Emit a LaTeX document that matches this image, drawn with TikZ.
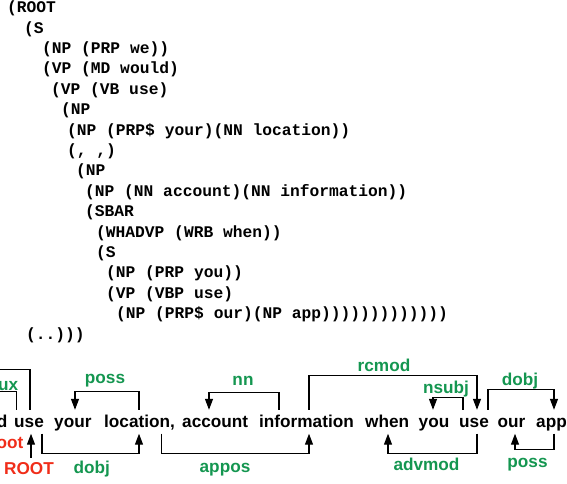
\documentclass[tikz,border=0pt]{standalone}
\usepackage{fontspec}
\newfontfamily\codefont{Liberation Mono}
\newfontfamily\wordfont{Liberation Sans}
\usetikzlibrary{arrows.meta}
\definecolor{depgreen}{RGB}{20,150,80}
\definecolor{rootred}{RGB}{240,45,25}
\tikzset{
  code/.style={anchor=base west, inner sep=0pt, font=\codefont\bfseries\fontsize{16.26}{18}\selectfont},
  word/.style={anchor=base west, inner xsep=0pt, inner ysep=4.5pt, text height=12.5pt, text depth=2pt,
    font=\wordfont\bfseries\fontsize{17.2}{20}\selectfont},
  deplabel/.style={anchor=base, inner sep=0pt, text=depgreen, font=\wordfont\bfseries\fontsize{17.2}{20}\selectfont},
  rootlabel/.style={anchor=base, inner sep=0pt, text=rootred, font=\wordfont\bfseries\fontsize{17.2}{20}\selectfont},
  conn/.style={line width=1.2pt},
  arr/.style={conn, -{Triangle[length=11pt,width=8pt]}}
}
\begin{document}
\begin{tikzpicture}[x=1pt,y=-1pt]
\useasboundingbox (0,0) rectangle (567,483);
\clip (0,0) rectangle (567,483);
% bracketed parse
\node[code] (l1)  at (7,12.7)  {(ROOT};
\node[code] (l2)  at (24,33.1)  {(S};
\node[code] (l3)  at (42,53.5)  {(NP (PRP we))};
\node[code] (l4)  at (42,73.9)  {(VP (MD would)};
\node[code] (l5)  at (51,94.3)  {(VP (VB use)};
\node[code] (l6)  at (61,114.7) {(NP};
\node[code] (l7)  at (67,135.1) {(NP (PRP\$ your)(NN location))};
\node[code] (l8)  at (67,155.5) {(, ,)};
\node[code] (l9)  at (76,175.9) {(NP};
\node[code] (l10) at (85,196.3) {(NP (NN account)(NN information))};
\node[code] (l11) at (85,216.7) {(SBAR};
\node[code] (l12) at (96,237.1) {(WHADVP (WRB when))};
\node[code] (l13) at (96,257.5) {(S};
\node[code] (l14) at (106,277.9) {(NP (PRP you))};
\node[code] (l15) at (106,298.3) {(VP (VBP use)};
\node[code] (l16) at (116,318.7) {(NP (PRP\$ our)(NP app)))))))))))))};
\node[code] (l17) at (26,339.1) {(..)))};
% words
\node[word, anchor=base east] (would) at (7.5,427) {would};
\node[word] (use1) at (14,427) {use};
\node[word] (your) at (54,427) {your};
\node[word] (location) at (104,427) {location,};
\node[word] (account) at (182,427) {account};
\node[word] (information) at (259,427) {information};
\node[word] (when) at (365,427) {when};
\node[word] (you) at (418.5,427) {you};
\node[word] (use2) at (459,427) {use};
\node[word] (our) at (497.5,427) {our};
\node[word] (app) at (536,427) {app};
\coordinate (wetip) at (-70,410);
% labels
\node[deplabel, anchor=base east] (laux) at (18.5,390) {aux};
\node[deplabel] (lposs) at (105,383.3) {poss};
\node[deplabel] (ldobj) at (91.7,473.3) {dobj};
\node[deplabel] (lnn) at (243,385.7) {nn};
\node[deplabel] (lappos) at (225,472.7) {appos};
\node[deplabel] (lrcmod) at (384,371) {rcmod};
\node[deplabel] (lnsubj) at (446,393.3) {nsubj};
\node[deplabel] (ldobjb) at (520,385) {dobj};
\node[deplabel] (ladvmod) at (426.5,470.7) {advmod};
\node[deplabel] (lpossb) at (527.5,467.3) {poss};
\node[rootlabel, anchor=base east] (lroot) at (23.5,448.3) {root};
\node[rootlabel, inner sep=4pt] (ROOT) at (29,474) {ROOT};
% connectors
\draw[arr] (use1.north -| 30,0) -- ++(0,-40) -| (wetip);
\draw[arr] (use1.north -| 16.7,0) -- ++(0,-18) -| (would.north);
\draw[arr] (location.north -| 139,0) -- ++(0,-18.3) -| (your.north -| 75,0);
\draw[arr] (ROOT.north -| 31,0) -- (use1.south -| 31,0);
\draw[arr] (use1.south -| 42,0) -- ++(0,19.5) -| (location.south -| 139,0);
\draw[arr] (information.north -| 279,0) -- ++(0,-17.5) -| (account.north -| 209,0);
\draw[arr] (location.south -| 161.7,0) -- ++(0,19.5) -| (information.south -| 309,0);
\draw[arr] (information.north -| 309,0) -- ++(0,-34) -| (use2.north -| 477,0);
\draw[arr] (use2.north -| 463,0) -- ++(0,-12.5) -| (you.north -| 433,0);
\draw[arr] (use2.north -| 488,0) -- ++(0,-20) -| (app.north -| 554,0);
\draw[arr] (use2.south -| 477,0) -- ++(0,19.5) -| (when.south -| 388,0);
\draw[arr] (app.south -| 554,0) -- ++(0,15.5) -| (our.south -| 515,0);
\end{tikzpicture}
\end{document}
